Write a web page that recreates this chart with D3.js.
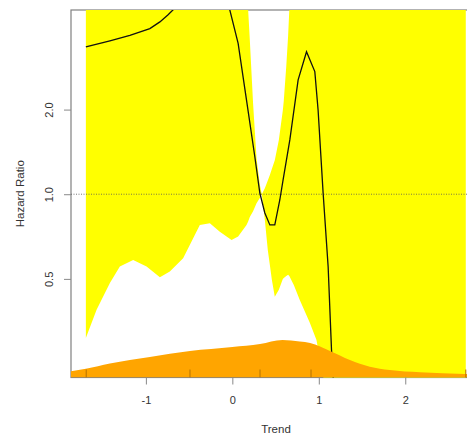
<!DOCTYPE html>
<html>
<head>
<meta charset="utf-8">
<script src="https://cdn.jsdelivr.net/npm/d3@7"></script>
<style>
  body { margin: 0; background: #fff; }
  text { font-family: "Liberation Sans", Arial, sans-serif; }
</style>
</head>
<body>
<div id="chart"></div>
<script>
// estimate curve (hazard ratio vs trend)
const estX  = [-1.694, -1.416, -1.185, -0.954, -0.838, -0.746, -0.665, -0.45, -0.25, -0.10, -0.029, 0.067, 0.164, 0.260, 0.318, 0.376, 0.434, 0.491, 0.549, 0.587, 0.665, 0.761, 0.858, 0.954, 0.992, 1.050, 1.108, 1.147, 1.20];
const estHR = [3.34, 3.51, 3.67, 3.88, 4.10, 4.34, 4.59, 6.2, 6.4, 5.5, 4.52, 3.44, 2.16, 1.36, 1.01, 0.858, 0.778, 0.778, 0.954, 1.124, 1.56, 2.55, 3.21, 2.73, 1.99, 1.01, 0.553, 0.28, 0.15];

// confidence band
const ciX     = [-1.694, -1.570, -1.416, -1.301, -1.147, -0.992, -0.838, -0.723, -0.569, -0.376, -0.260, -0.145, -0.009, 0.067, 0.164, 0.183, 0.202, 0.240, 0.280, 0.318, 0.341, 0.376, 0.410, 0.434, 0.457, 0.491, 0.538, 0.584, 0.595, 0.624, 0.645, 0.659, 0.711, 0.780, 0.896, 0.973, 1.035, 1.127, 1.30, 1.60, 2.00, 2.40, 2.70];
const ciLower = [0.308, 0.388, 0.483, 0.553, 0.584, 0.553, 0.507, 0.531, 0.592, 0.778, 0.789, 0.736, 0.688, 0.707, 0.778, 0.80, 0.83, 0.87, 0.929, 0.97, 1.0, 0.81, 0.634, 0.56, 0.496, 0.432, 0.457, 0.50, 0.504, 0.512, 0.517, 0.512, 0.476, 0.421, 0.349, 0.303, 0.238, 0.165, 0.09, 0.05, 0.03, 0.02, 0.015];
const ciUpper = [20, 18, 16, 15, 14, 13, 12, 11.5, 11, 10.5, 10, 9.5, 9, 8, 5.8, 4.52, 3.54, 2.1, 1.34, 1.08, 1.0, 1.05, 1.12, 1.17, 1.23, 1.32, 1.56, 1.99, 2.15, 2.86, 3.65, 4.52, 7, 10, 14, 18, 20, 22, 24, 26, 28, 30, 30];

// density of trend (relative units)
const densX = [-1.866, -1.694, -1.416, -0.954, -0.49, 0.0, 0.32, 0.58, 0.78, 0.90, 1.13, 1.36, 1.59, 1.82, 2.17, 2.69, 2.876];
const densY = [0.063, 0.087, 0.14, 0.205, 0.265, 0.305, 0.335, 0.375, 0.36, 0.345, 0.265, 0.175, 0.108, 0.075, 0.052, 0.035, 0.03];

// rug (knots)
const knots = [-1.69, -0.49, 0.32, 0.91, 2.70];

const xTicks = [-1, 0, 1, 2];
const yTicks = [0.5, 1, 2];

const width = 467;
const height = 434;
const plot = {left: 71, right: 481, top: 10, bottom: 377.5};

const svg = d3.select("#chart").append("svg")
    .attr("width", width)
    .attr("height", height);

const xScale = d3.scaleLinear().domain([-1.866, 2.876]).range([plot.left, plot.right]);
const yScale = d3.scaleLog().domain([0.223, 4.52]).range([plot.bottom, plot.top]);
const densScale = d3.scaleLinear().domain([0, 1]).range([plot.bottom, plot.bottom - 100]);

svg.append("clipPath").attr("id", "clip")
    .append("rect")
    .attr("x", plot.left).attr("y", plot.top)
    .attr("width", plot.right - plot.left)
    .attr("height", plot.bottom - plot.top);

// box
svg.append("rect")
    .attr("x", plot.left).attr("y", plot.top)
    .attr("width", plot.right - plot.left)
    .attr("height", plot.bottom - plot.top)
    .attr("fill", "none")
    .attr("stroke", "#808080")
    .attr("stroke-width", 1.2);

const g = svg.append("g").attr("clip-path", "url(#clip)");

// CI band
const band = d3.area()
    .x((d, i) => xScale(ciX[i]))
    .y0((d, i) => yScale(ciLower[i]))
    .y1((d, i) => yScale(ciUpper[i]));

g.append("path")
    .datum(ciX)
    .attr("d", band)
    .attr("fill", "#ffff00");

// reference line HR = 1
g.append("line")
    .attr("x1", plot.left).attr("x2", plot.right)
    .attr("y1", yScale(1)).attr("y2", yScale(1))
    .attr("stroke", "#555")
    .attr("stroke-width", 0.8)
    .attr("stroke-dasharray", "1,1.5");

// estimate
const line = d3.line()
    .x((d, i) => xScale(estX[i]))
    .y((d, i) => yScale(estHR[i]));

g.append("path")
    .datum(estX)
    .attr("d", line)
    .attr("fill", "none")
    .attr("stroke", "#111")
    .attr("stroke-width", 1.3);

// density
const dens = d3.area()
    .x((d, i) => xScale(densX[i]))
    .y0(plot.bottom)
    .y1((d, i) => densScale(densY[i]))
    .curve(d3.curveMonotoneX);

g.append("path")
    .datum(densX)
    .attr("d", dens)
    .attr("fill", "#ffa500");

// rug
g.selectAll(".rug")
    .data(knots)
    .enter().append("line")
    .attr("class", "rug")
    .attr("x1", d => xScale(d)).attr("x2", d => xScale(d))
    .attr("y1", plot.bottom).attr("y2", plot.bottom - 8)
    .attr("stroke", "#b57200")
    .attr("stroke-width", 1);

// axes
const xAxis = d3.axisBottom(xScale)
    .tickValues(xTicks)
    .tickSize(7)
    .tickPadding(12)
    .tickFormat(d3.format("d"));

const gx = svg.append("g")
    .attr("transform", `translate(0,${plot.bottom})`)
    .call(xAxis);
gx.select(".domain").remove();
gx.selectAll("line").attr("stroke", "#888");
gx.selectAll("text").style("font-size", "11px").attr("fill", "#333")
    .text(d => d < 0 ? "-" + Math.abs(d) : d);

const yAxis = d3.axisLeft(yScale)
    .tickValues(yTicks)
    .tickSize(7)
    .tickFormat(d3.format(".1f"));

const gy = svg.append("g")
    .attr("transform", `translate(${plot.left},0)`)
    .call(yAxis);
gy.select(".domain").remove();
gy.selectAll("line").attr("stroke", "#888");
gy.selectAll("text")
    .style("font-size", "11px")
    .attr("fill", "#333")
    .attr("transform", "rotate(-90)")
    .attr("x", 0)
    .attr("y", -18)
    .attr("dy", 0)
    .attr("text-anchor", "middle");

// axis titles
svg.append("text")
    .attr("x", (plot.left + plot.right) / 2)
    .attr("y", 433)
    .attr("text-anchor", "middle")
    .style("font-size", "11.5px")
    .attr("fill", "#333")
    .text("Trend");

svg.append("text")
    .attr("transform", `translate(24,${(plot.top + plot.bottom) / 2}) rotate(-90)`)
    .attr("text-anchor", "middle")
    .style("font-size", "11.5px")
    .attr("fill", "#333")
    .text("Hazard Ratio");
</script>
</body>
</html>
